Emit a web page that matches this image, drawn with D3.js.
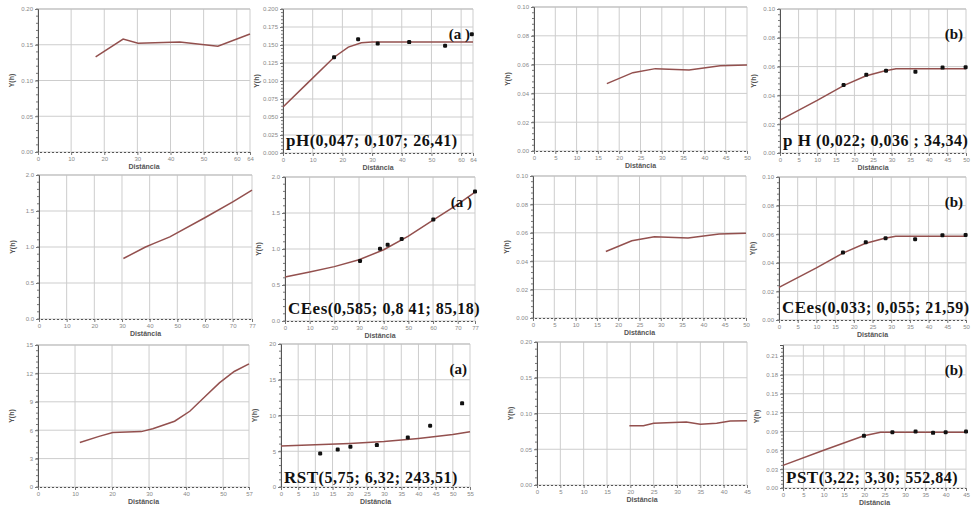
<!DOCTYPE html>
<html>
<head>
<meta charset="utf-8">
<script src="https://cdn.jsdelivr.net/npm/d3@7/dist/d3.min.js"></script>
<style>
body { margin: 0; background: #fff; }
</style>
</head>
<body>
<div id="chart"></div>
<script>
// ---- valores ----
// ticks do eixo x
const xTicks64 = [0, 10, 20, 30, 40, 50, 60, 64];
const xTicks77 = [0, 10, 20, 30, 40, 50, 60, 70, 77];
const xTicks57 = [0, 10, 20, 30, 40, 50, 57];
const xTicks50 = [0, 5, 10, 15, 20, 25, 30, 35, 40, 45, 50];
const xTicks55 = [0, 5, 10, 15, 20, 25, 30, 35, 40, 45, 50, 55];
const xTicks45 = [0, 5, 10, 15, 20, 25, 30, 35, 40, 45];

// ticks do eixo y
const yTicksPhA = [0, 0.05, 0.10, 0.15, 0.20];
const yTicksPhA2 = [0, 0.025, 0.05, 0.075, 0.10, 0.125, 0.15, 0.175, 0.20];
const yTicksB = [0, 0.02, 0.04, 0.06, 0.08, 0.10];
const yTicksCe = [0, 0.5, 1.0, 1.5, 2.0];
const yTicksRst = [0, 3, 6, 9, 12, 15];
const yTicksRst2 = [0, 5, 10, 15, 20];
const yTicksPst = [0, 0.05, 0.10, 0.15, 0.20];
const yTicksPst2 = [0, 0.03, 0.06, 0.09, 0.12, 0.15, 0.18, 0.21];

// semivariogramas experimentais (linhas, painéis da esquerda)
const phExpA = [[17.4, 0.133], [25.7, 0.158], [30.2, 0.152], [42.8, 0.154], [54.3, 0.148], [64, 0.165]];
const ceExpA = [[30.5, 0.84], [38.5, 1.0], [41.6, 1.05], [47.3, 1.14], [60.1, 1.41], [70.2, 1.63], [77, 1.79]];
const rstExpA = [[11.3, 4.7], [16.5, 5.35], [20.2, 5.75], [27.9, 5.85], [31, 6.15], [36.9, 6.95], [41, 8.0], [45, 9.5], [49, 11.0], [53, 12.2], [57, 13.0]];
const expB = [[17.1, 0.0468], [23.2, 0.0544], [28.5, 0.0572], [36.4, 0.0563], [43.7, 0.0592], [50, 0.0597]];
const pstExpB = [[19.8, 0.083], [22.8, 0.083], [25, 0.0865], [32, 0.088], [35, 0.085], [38.5, 0.0865], [41.4, 0.0895], [45, 0.09]];

// pontos experimentais (painéis da direita)
const phPtsA = [[17.2, 0.133], [25.3, 0.158], [31.9, 0.152], [42.5, 0.154], [54.6, 0.149], [63.6, 0.165]];
const cePtsA = [[30.4, 0.833], [38.5, 1.005], [41.6, 1.06], [47.3, 1.14], [60.1, 1.41], [77, 1.80]];
const rstPtsA = [[11.4, 4.69], [16.5, 5.25], [20.2, 5.62], [27.9, 5.86], [36.9, 6.93], [43.4, 8.57], [52.7, 11.7]];
const ptsB = [[17.1, 0.0472], [23.2, 0.0544], [28.5, 0.0572], [36.4, 0.0565], [43.7, 0.0593], [49.9, 0.0595]];
const pstPtsB = [[19.9, 0.083], [26.9, 0.0886], [32.6, 0.09], [36.9, 0.0877], [40, 0.0886], [45, 0.09]];

// modelos ajustados (linhas)
const phModelA = [[0, 0.064], [8, 0.096], [17.2, 0.133], [22, 0.147], [26.4, 0.153], [30, 0.154], [64, 0.154]];
const ceModelA = [[0, 0.61], [10, 0.68], [20, 0.755], [30, 0.85], [40, 0.99], [50, 1.18], [60, 1.40], [70, 1.62], [77, 1.79]];
const rstModelA = [[0, 5.72], [10, 5.9], [20, 6.1], [30, 6.35], [40, 6.8], [50, 7.35], [55, 7.72]];
const modelB = [[0, 0.0228], [10, 0.0365], [17.1, 0.0468], [23, 0.0535], [28, 0.057], [31.2, 0.0585], [50, 0.0585]];
const pstModelB = [[0, 0.036], [10, 0.06], [19.9, 0.083], [24, 0.0886], [45, 0.0886]];

// textos
const notePhA = ['pH', '(0,047;  0,107;  26,41)'];
const notePhB = ['p H', ' (0,022; 0,036 ; 34,34)'];
const noteCeA = ['CEes', '(0,585;  0,8 41;  85,18)'];
const noteCeB = ['CEes', '(0,033;  0,055;  21,59)'];
const noteRstA = ['RST', '(5,75;  6,32;  243,51)'];
const notePstB = ['PST', '(3,22;  3,30;  552,84)'];

const W = 971, H = 506;
const svg = d3.select('#chart').append('svg')
    .attr('width', W)
    .attr('height', H)
    .style('font-family', 'Arial, "Liberation Sans", sans-serif');

const f2 = d3.format('.2f'), f3 = d3.format('.3f'), f1 = d3.format('.1f'), f0 = d3.format('d');

// caixa: [esquerda, topo, direita, base]
const panels = [
    { box: [38, 9, 250, 152], xd: [0, 64], xt: xTicks64, yd: [0, 0.2], yt: yTicksPhA, fmt: f2, line: phExpA },
    { box: [283, 9, 473, 153], xd: [0, 64], xt: xTicks64, yd: [0, 0.2], yt: yTicksPhA2, fmt: f3, line: phModelA, pts: phPtsA, tag: '(a )', note: notePhA, ndy: 7 },
    { box: [534, 7, 747, 151], xd: [0, 50], xt: xTicks50, yd: [0, 0.1], yt: yTicksB, fmt: f2, line: expB },
    { box: [780, 9, 966, 153], xd: [0, 50], xt: xTicks50, yd: [0, 0.1], yt: yTicksB, fmt: f2, line: modelB, pts: ptsB, tag: '(b)', note: notePhB, ndy: 7 },
    { box: [39, 175, 252, 319], xd: [0, 77], xt: xTicks77, yd: [0, 2], yt: yTicksCe, fmt: f1, line: ceExpA },
    { box: [285, 177, 475, 321], xd: [0, 77], xt: xTicks77, yd: [0, 2], yt: yTicksCe, fmt: f1, line: ceModelA, pts: cePtsA, tag: '(a )', note: noteCeA, ndy: 7 },
    { box: [533, 176, 746, 318], xd: [0, 50], xt: xTicks50, yd: [0, 0.1], yt: yTicksB, fmt: f2, line: expB },
    { box: [779, 177, 966, 320], xd: [0, 50], xt: xTicks50, yd: [0, 0.1], yt: yTicksB, fmt: f2, line: modelB, pts: ptsB, tag: '(b)', note: noteCeB, ndy: 7 },
    { box: [38, 345, 249, 487], xd: [0, 57], xt: xTicks57, yd: [0, 15], yt: yTicksRst, fmt: f0, line: rstExpA },
    { box: [281, 344, 470, 487], xd: [0, 55], xt: xTicks55, yd: [0, 20], yt: yTicksRst2, fmt: f0, line: rstModelA, pts: rstPtsA, tag: '(a)', note: noteRstA, ndy: 4 },
    { box: [537, 342, 747, 485], xd: [0, 45], xt: xTicks45, yd: [0, 0.2], yt: yTicksPst, fmt: f2, line: pstExpB },
    { box: [783, 345, 966, 488], xd: [0, 45], xt: xTicks45, yd: [0, 0.2275], yt: yTicksPst2, fmt: f2, line: pstModelB, pts: pstPtsB, tag: '(b)', note: notePstB, ndy: 5 }
];

function drawPanel(p) {
    const [x0, y0, x1, y1] = p.box;
    const x = d3.scaleLinear().domain(p.xd).range([x0, x1]);
    const y = d3.scaleLinear().domain(p.yd).range([y1, y0]);
    const g = svg.append('g');

    // grade
    g.selectAll('.gx').data(p.xt).enter().append('line')
        .attr('x1', d => x(d)).attr('x2', d => x(d))
        .attr('y1', y0).attr('y2', y1)
        .attr('stroke', '#cdcdcd').attr('stroke-width', 1);
    g.selectAll('.gy').data(p.yt).enter().append('line')
        .attr('x1', x0).attr('x2', x1)
        .attr('y1', d => y(d)).attr('y2', d => y(d))
        .attr('stroke', '#cdcdcd').attr('stroke-width', 1);
    g.append('line').attr('x1', x0).attr('x2', x1).attr('y1', y0).attr('y2', y0)
        .attr('stroke', '#bdbdbd');

    // ticks menores do eixo y
    const step = p.yt[1] - p.yt[0];
    const minor = d3.range(p.yd[0], p.yd[1] + 1e-9, step / 5);
    g.selectAll('.my').data(minor).enter().append('line')
        .attr('x1', x0 - 2).attr('x2', x0)
        .attr('y1', d => y(d)).attr('y2', d => y(d))
        .attr('stroke', '#777');

    // eixo y
    const ya = g.append('g').attr('transform', `translate(${x0},0)`)
        .call(d3.axisLeft(y).tickValues(p.yt).tickFormat(p.fmt).tickSize(3).tickPadding(2));
    ya.select('.domain').attr('stroke', '#555');

    // eixo x (linha pontilhada)
    const xa = g.append('g').attr('transform', `translate(0,${y1})`)
        .call(d3.axisBottom(x).tickValues(p.xt).tickSize(3).tickPadding(2));
    xa.select('.domain').attr('stroke', '#555').attr('stroke-dasharray', '2,2');

    [ya, xa].forEach(a => {
        a.selectAll('.tick line').attr('stroke', '#777');
        a.selectAll('.tick text').attr('fill', '#888').style('font-size', '6px');
    });

    // rótulos dos eixos
    g.append('text').attr('x', (x0 + x1) / 2).attr('y', y1 + 17)
        .attr('text-anchor', 'middle').style('font-size', '7px').attr('fill', '#555')
        .attr('font-weight', 'bold').text('Distância');
    g.append('text')
        .attr('transform', `translate(${x0 - 24},${(y0 + y1) / 2}) rotate(-90)`)
        .attr('text-anchor', 'middle').style('font-size', '7px').attr('fill', '#555')
        .attr('font-weight', 'bold').text('Y(h)');

    // linha
    const line = d3.line().x(d => x(d[0])).y(d => y(d[1]));
    g.append('path').datum(p.line).attr('d', line)
        .attr('fill', 'none').attr('stroke', '#93504e').attr('stroke-width', 1.5);

    // pontos
    if (p.pts) {
        g.selectAll('.pt').data(p.pts).enter().append('rect')
            .attr('x', d => x(d[0]) - 2).attr('y', d => y(d[1]) - 2)
            .attr('width', 4).attr('height', 4).attr('rx', 1.2)
            .attr('fill', '#111');
    }

    // anotações
    const serif = '"Liberation Serif", "Times New Roman", serif';
    if (p.tag) {
        g.append('text').attr('x', x1 - 3).attr('y', y0 + 30)
            .attr('text-anchor', 'end')
            .style('font-family', serif)
            .style('font-size', '15px').attr('font-weight', 'bold').attr('fill', '#111')
            .text(p.tag);
    }
    if (p.note) {
        const t = g.append('text').attr('x', x0 + 3).attr('y', y1 - p.ndy)
            .style('font-family', serif).style('letter-spacing', '0.5px')
            .style('font-size', '16px').attr('fill', '#111');
        t.append('tspan').attr('font-weight', 'bold').style('font-size', '17px').text(p.note[0]);
        t.append('tspan').attr('font-weight', 'bold').text(p.note[1]);
    }
}

panels.forEach(drawPanel);
</script>
</body>
</html>
